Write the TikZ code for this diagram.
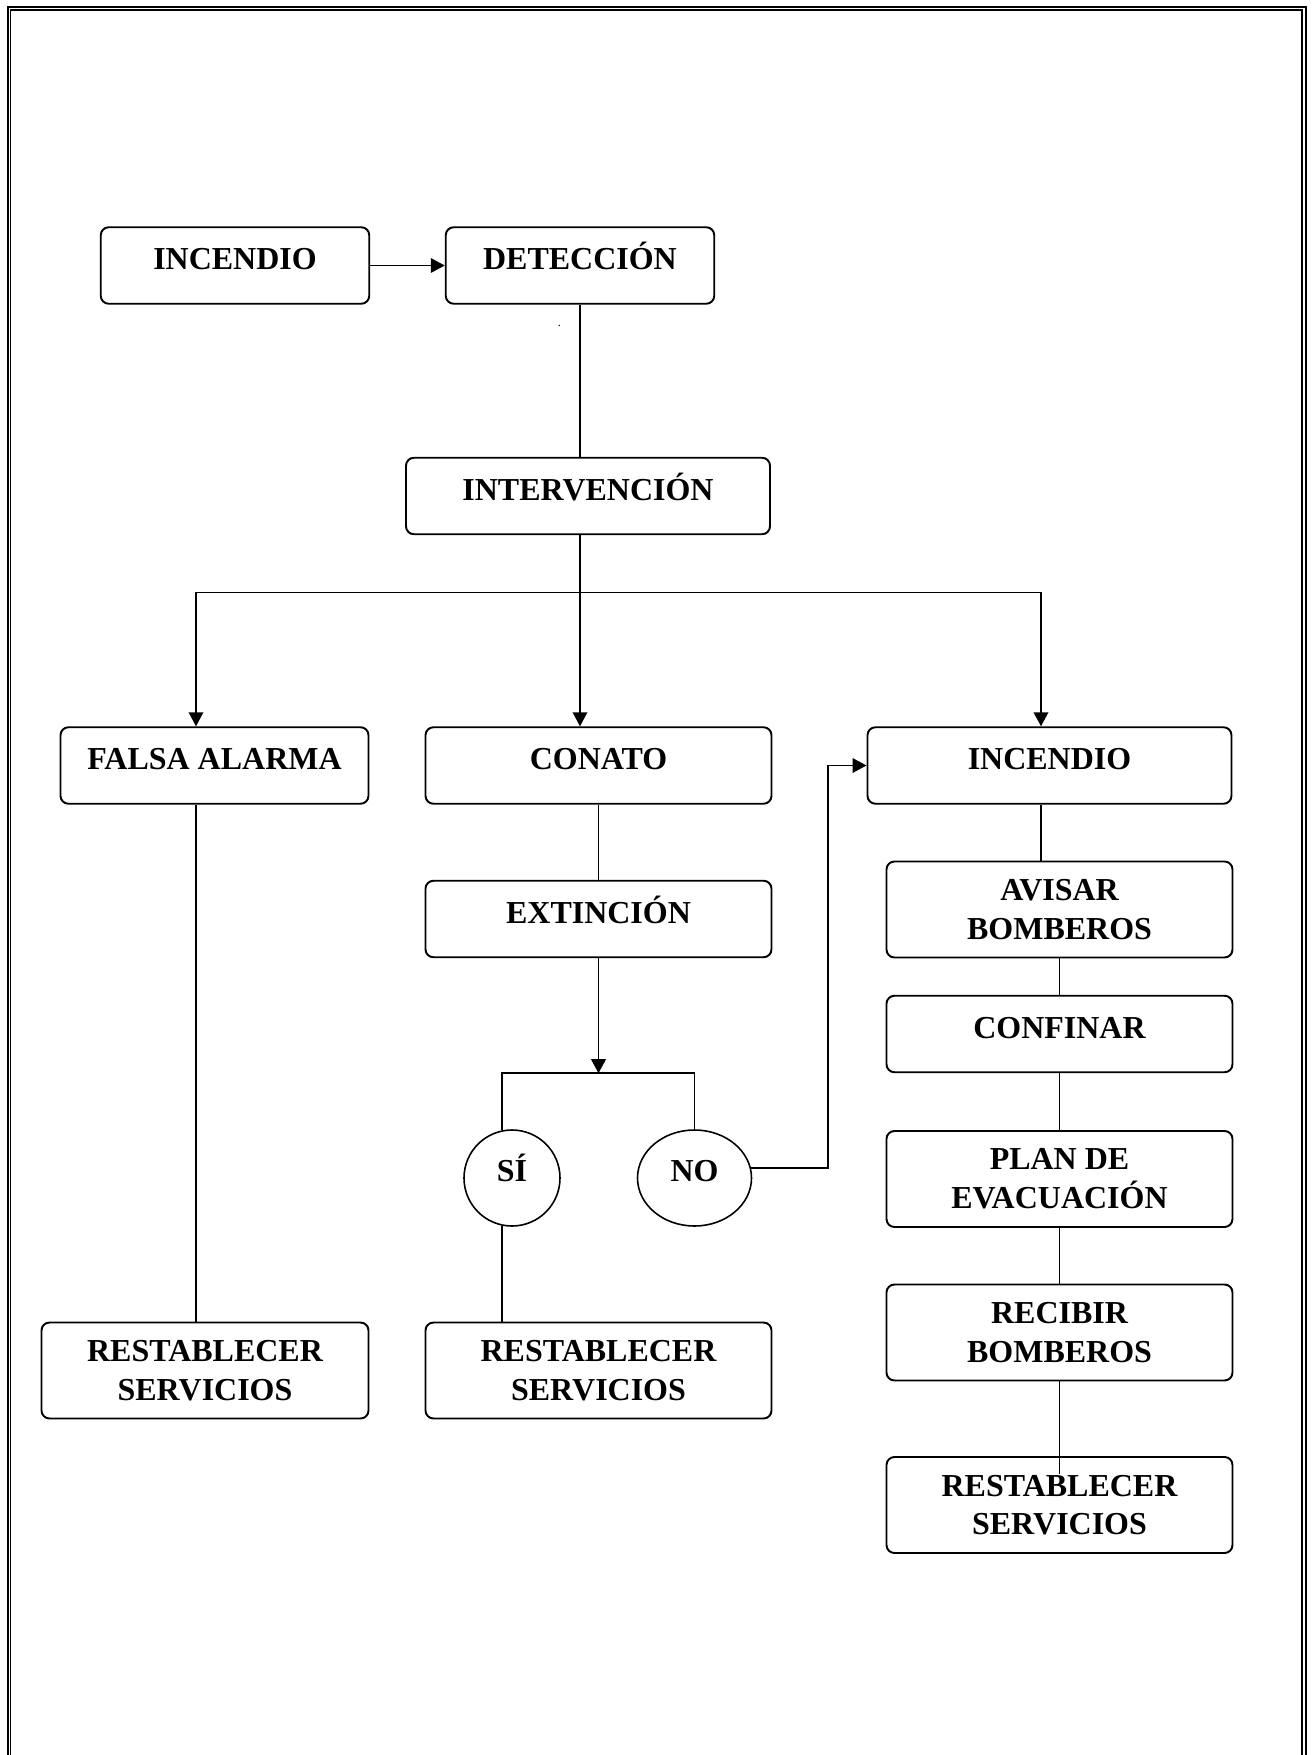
\documentclass[tikz,border=0pt]{standalone}
\usepackage{fontspec}
\setmainfont{Liberation Serif}
\usetikzlibrary{positioning,arrows.meta,shapes.geometric}

\tikzset{
  box/.style={rectangle, draw, rounded corners=0.16cm, line width=1.1pt, fill=white,
    align=center, inner sep=0pt, minimum height=1.53cm,
    font=\fontsize{18.2}{22}\selectfont\bfseries},
  onebox/.style={box, text height=0.7em, text depth=0.22em},
  tallbox/.style={box, minimum height=1.92cm},
  choice/.style={ellipse, draw, line width=0.9pt, fill=white, inner sep=0pt,
    minimum height=1.92cm, text height=0.7em, text depth=0.28em,
    font=\fontsize{18.2}{22}\selectfont\bfseries},
  link/.style={line width=1.1pt},
}

\begin{document}
\begin{tikzpicture}[>={Triangle[length=0.28cm,width=0.29cm]}]

\useasboundingbox (-4.70,5.31) rectangle (21.54,-29.79);

%page frame
\draw[line width=1.15pt] (-4.54,-30.5) -- (-4.54,5.17) -- (21.41,5.17) -- (21.41,-30.5);
\draw[line width=0.95pt] (-4.49,-30.5) -- (-4.49,5.11) -- (21.34,5.11) -- (21.34,-30.5);

%Incendio
\node[onebox, minimum width=5.37cm] (inc) {INCENDIO};

%Deteccion
\node[onebox, minimum width=5.37cm, right of=inc, xshift=5.90cm] (det) {DETECCIÓN};

\node[font=\scriptsize, inner sep=0pt, right of=inc, xshift=5.49cm, yshift=-1.20cm] (dot) {.};

%Intervencion
\node[onebox, minimum width=7.28cm, right of=inc, xshift=6.06cm, yshift=-4.61cm] (interv) {INTERVENCIÓN};

%Falsa alarma
\node[onebox, minimum width=6.16cm, right of=inc, xshift=-1.41cm, yshift=-10.00cm] (falsa) {FALSA ALARMA};

%Conato
\node[onebox, minimum width=6.92cm, right of=inc, xshift=6.27cm, yshift=-10.00cm] (conato) {CONATO};

%Incendio (declarado)
\node[onebox, minimum width=7.28cm, right of=inc, xshift=15.29cm, yshift=-10.00cm] (inc2) {INCENDIO};

%Extincion
\node[onebox, minimum width=6.92cm, right of=inc, xshift=6.27cm, yshift=-13.07cm] (ext) {EXTINCIÓN};

%Si / No
\node[choice, minimum width=1.92cm, right of=inc, xshift=4.54cm, yshift=-18.25cm] (si) {SÍ};
\node[choice, minimum width=2.28cm, right of=inc, xshift=8.19cm, yshift=-18.25cm] (no) {NO};

%Restablecer servicios
\node[tallbox, minimum width=6.54cm, right of=inc, xshift=-1.60cm, yshift=-22.10cm] (rest1) {RESTABLECER\\SERVICIOS};
\node[tallbox, minimum width=6.92cm, right of=inc, xshift=6.27cm, yshift=-22.10cm] (rest2) {RESTABLECER\\SERVICIOS};

%Right column
\node[tallbox, minimum width=6.92cm, right of=inc, xshift=15.49cm, yshift=-12.88cm] (avisar) {AVISAR\\BOMBEROS};
\node[onebox, minimum width=6.92cm, right of=inc, xshift=15.49cm, yshift=-15.37cm] (confinar) {CONFINAR};
\node[tallbox, minimum width=6.92cm, right of=inc, xshift=15.49cm, yshift=-18.27cm] (plan) {PLAN DE\\EVACUACIÓN};
\node[tallbox, minimum width=6.92cm, right of=inc, xshift=15.49cm, yshift=-21.34cm] (recibir) {RECIBIR\\BOMBEROS};
\node[tallbox, minimum width=6.92cm, right of=inc, xshift=15.49cm, yshift=-24.79cm] (rest3) {RESTABLECER\\SERVICIOS};

%Paths
\coordinate (barL) at (-0.78,-6.54);
\coordinate (barR) at (16.12,-6.54);
\coordinate (brk) at ([yshift=-2.30cm]ext.south);

%incendio to deteccion
\draw[->, link] (inc) -- (det);
%deteccion to intervencion
\draw[link] (det.south) -- (det.south |- interv.north);
%intervencion to the three cases
\draw[link] (interv.south -| det.south) -- (det.south |- barL);
\draw[->, link] (det.south |- barL) -- (det.south |- conato.north);
\draw[<->, link] (barL |- falsa.north) -- (barL) -- (barR) -- (barR |- inc2.north);

%falsa alarma to restablecer
\draw[link] (barL |- falsa.south) -- (barL |- rest1.north);

%conato to extincion
\draw[link] (conato) -- (ext);
\draw[->, link] (ext.south) -- (brk);
\draw[link] (si.102) -- (si.102 |- brk) -- (brk -| no.north) -- (no.north);
\draw[link] (si.258) -- (si.258 |- rest2.north);
%no to incendio
\draw[->, link] (no.10) -| ([xshift=-0.77cm]inc2.west) -- (inc2.west);

%incendio column
\draw[link] (barR |- inc2.south) -- (barR |- avisar.north);
\draw[link] (avisar) -- (confinar);
\draw[link] (confinar) -- (plan);
\draw[link] (plan) -- (recibir);
\draw[link] (recibir.south) -- ([yshift=-0.35cm]rest3.north);

\end{tikzpicture}
\end{document}
